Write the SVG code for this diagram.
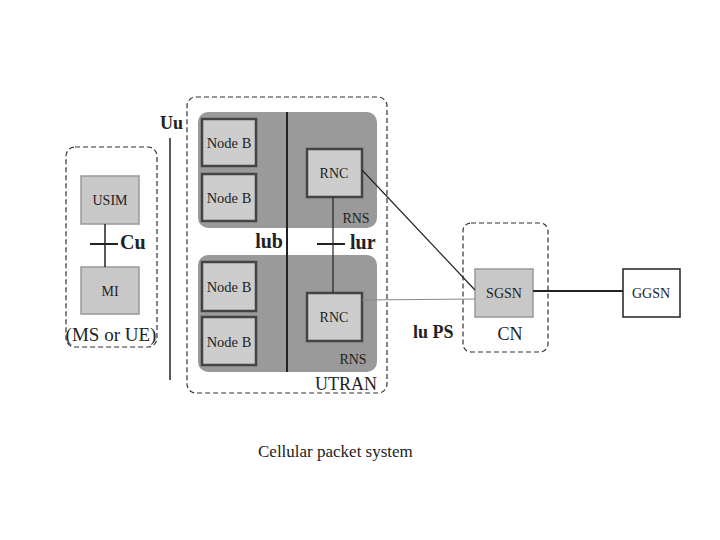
<svg xmlns="http://www.w3.org/2000/svg" width="720" height="540" viewBox="0 0 720 540" font-family="'Liberation Serif', 'Times New Roman', serif">
<style>
.dash{fill:none;stroke:#333;stroke-width:1.2;stroke-dasharray:5,3}
.region{fill:#9a9a9a}
.nb{fill:#cdcdcd;stroke:#444;stroke-width:2.5}
.lt{fill:#c8c8c8;stroke:#999;stroke-width:1.5}
.t{font-family:"Liberation Serif","Times New Roman",serif;fill:#222}
.s{font-size:14px}
.nbt{font-size:14.5px}
.b{font-size:18px;font-weight:bold}
.bb{font-size:20px;font-weight:bold}
.m{font-size:18px}
</style>
<rect width="720" height="540" fill="#fff"/>
<g id="ms">
<rect class="dash" x="66" y="147" width="91" height="200" rx="9"/>
<text class="t" x="111" y="341" text-anchor="middle" font-size="19">(MS or UE)</text>
</g>
<g id="usim">
<rect class="lt" x="81" y="176" width="58" height="48"/>
<text class="t s" x="110" y="205" text-anchor="middle">USIM</text>
</g>
<g id="mi">
<rect class="lt" x="81" y="267" width="58" height="47"/>
<text class="t s" x="110" y="296" text-anchor="middle">MI</text>
</g>
<g id="utran">
<rect class="dash" x="187" y="97" width="200" height="296" rx="9"/>
<rect class="region" x="198" y="112" width="179" height="116" rx="10"/>
<rect class="region" x="198" y="255" width="179" height="117" rx="10"/>
<text class="t m" x="346" y="390" text-anchor="middle">UTRAN</text>
<text class="t s" x="356" y="223" text-anchor="middle">RNS</text>
<text class="t s" x="353" y="364" text-anchor="middle">RNS</text>
</g>
<g id="nodeb1"><rect class="nb" x="202" y="119" width="54" height="47"/><text class="t nbt" x="229" y="148" text-anchor="middle">Node B</text></g>
<g id="nodeb2"><rect class="nb" x="202" y="174" width="54" height="47"/><text class="t nbt" x="229" y="203" text-anchor="middle">Node B</text></g>
<g id="nodeb3"><rect class="nb" x="202" y="262" width="54" height="49"/><text class="t nbt" x="229" y="292" text-anchor="middle">Node B</text></g>
<g id="nodeb4"><rect class="nb" x="202" y="317" width="54" height="48"/><text class="t nbt" x="229" y="347" text-anchor="middle">Node B</text></g>
<g id="rnc1"><rect class="nb" x="307" y="149" width="55" height="48"/><text class="t s" x="334" y="178" text-anchor="middle">RNC</text></g>
<g id="rnc2"><rect class="nb" x="307" y="293" width="55" height="48"/><text class="t s" x="334" y="322" text-anchor="middle">RNC</text></g>
<g id="cn">
<rect class="dash" x="463" y="223" width="85" height="129" rx="8"/>
<text class="t m" x="510" y="340" text-anchor="middle">CN</text>
</g>
<g id="sgsn"><rect class="lt" x="475" y="269" width="58" height="48"/><text class="t s" x="504" y="298" text-anchor="middle">SGSN</text></g>
<g id="ggsn"><rect fill="#fff" stroke="#222" stroke-width="1.5" x="623" y="269" width="57" height="48"/><text class="t s" x="651" y="298" text-anchor="middle">GGSN</text></g>
<g id="connectors" stroke="#222" fill="none">
<line x1="170" y1="138" x2="170" y2="380" stroke-width="1.5"/>
<line x1="287" y1="112" x2="287" y2="372" stroke-width="2"/>
<line x1="105" y1="224" x2="105" y2="267" stroke-width="1.5"/>
<line x1="90" y1="244" x2="118" y2="244" stroke-width="2"/>
<line x1="333" y1="197" x2="333" y2="293" stroke-width="1.2"/>
<line x1="317" y1="244" x2="345" y2="244" stroke-width="2"/>
<line x1="362" y1="170" x2="475" y2="290" stroke-width="1.2"/>
<line x1="362" y1="300" x2="475" y2="299" stroke="#888" stroke-width="1"/>
<line x1="533" y1="291" x2="623" y2="291" stroke-width="2"/>
</g>
<g id="labels">
<text class="t b" x="160" y="129" font-size="19">Uu</text>
<text class="t bb" x="120" y="249">Cu</text>
<text class="t bb" x="283" y="248" text-anchor="end">lub</text>
<text class="t bb" x="350" y="249">lur</text>
<text class="t b" x="413" y="338">lu PS</text>
<text class="t" x="258" y="457" font-size="17">Cellular packet system</text>
</g>
</svg>
